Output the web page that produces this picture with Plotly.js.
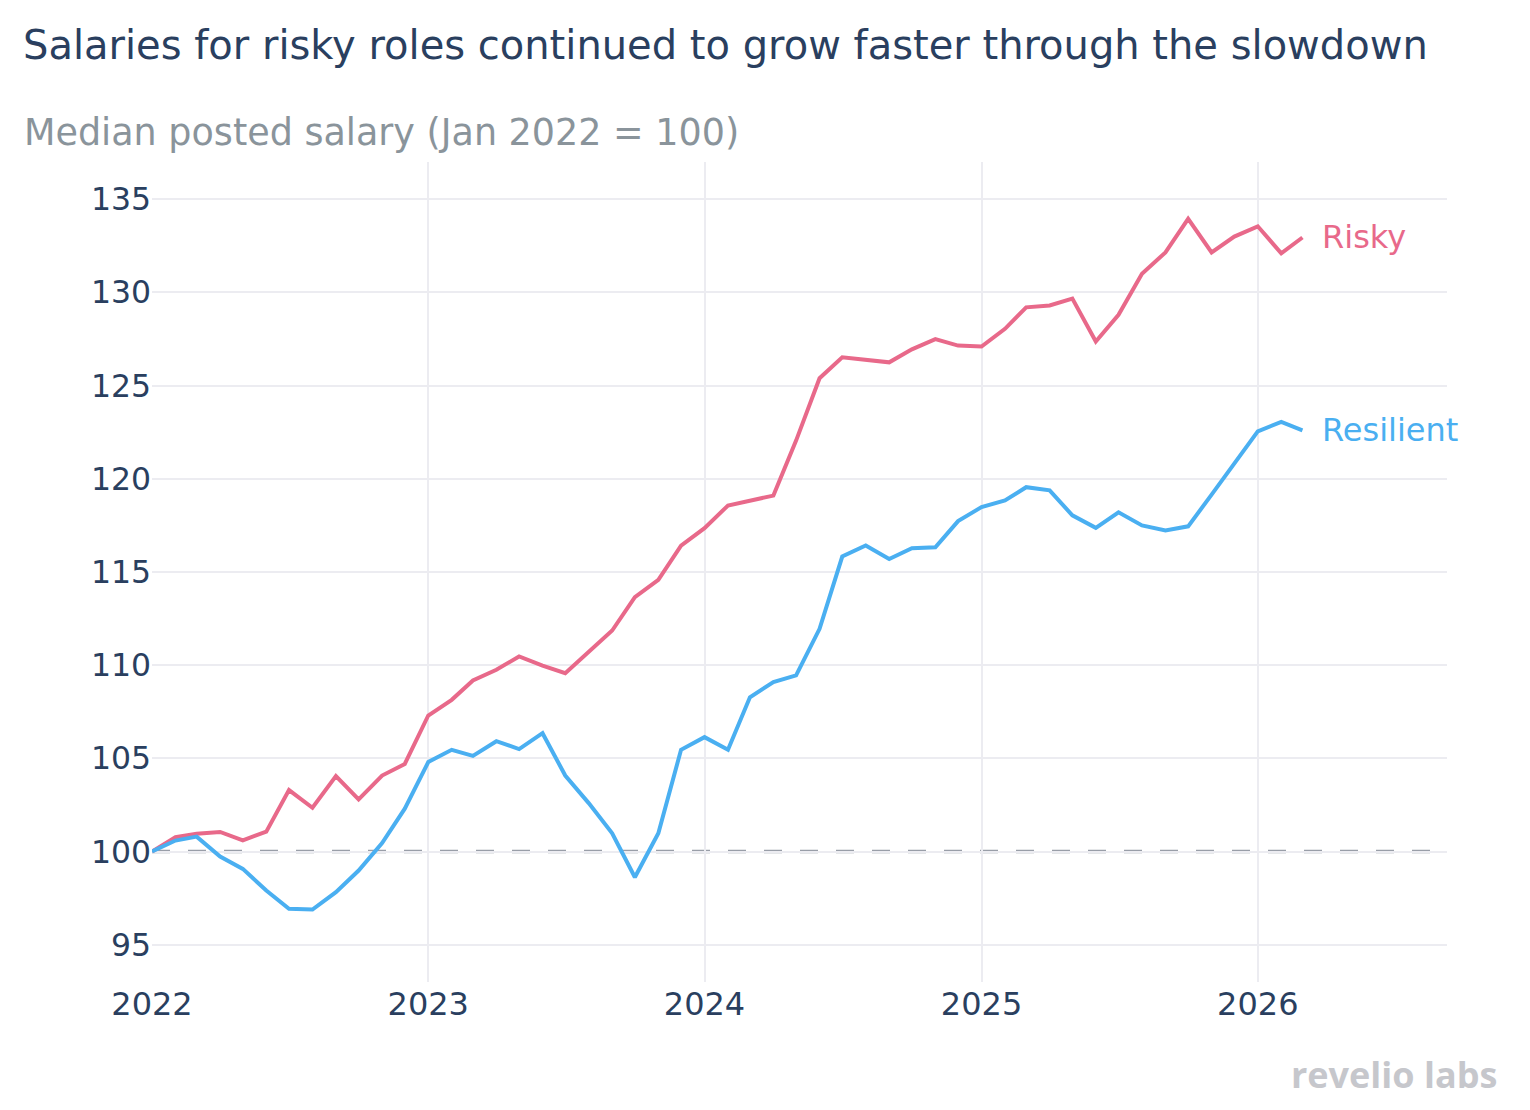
<!DOCTYPE html>
<html>
<head>
<meta charset="utf-8">
<script src="https://cdn.plot.ly/plotly-3.0.1.min.js"></script>
<style>
  html, body { margin: 0; padding: 0; background: #fff; }
  #chart { width: 1530px; height: 1110px; }
</style>
</head>
<body>
<div id="chart"></div>
<script>
const months = [
  '2022-01-01','2022-02-01','2022-03-01','2022-04-01','2022-05-01','2022-06-01','2022-07-01','2022-08-01','2022-09-01','2022-10-01','2022-11-01','2022-12-01',
  '2023-01-01','2023-02-01','2023-03-01','2023-04-01','2023-05-01','2023-06-01','2023-07-01','2023-08-01','2023-09-01','2023-10-01','2023-11-01','2023-12-01',
  '2024-01-01','2024-02-01','2024-03-01','2024-04-01','2024-05-01','2024-06-01','2024-07-01','2024-08-01','2024-09-01','2024-10-01','2024-11-01','2024-12-01',
  '2025-01-01','2025-02-01','2025-03-01','2025-04-01','2025-05-01','2025-06-01','2025-07-01','2025-08-01','2025-09-01','2025-10-01','2025-11-01','2025-12-01',
  '2026-01-01','2026-02-01','2026-03-01'
];
const risky = [
  100.0, 100.77, 100.95, 101.05, 100.6, 101.07, 103.3, 102.35, 104.05, 102.8, 104.08, 104.7,
  107.3, 108.14, 109.18, 109.75, 110.47, 109.98, 109.57, 110.7, 111.86, 113.65, 114.58, 116.42,
  117.35, 118.57, 118.8, 119.1, 122.05, 125.4, 126.52, 126.4, 126.25, 126.95, 127.5, 127.15,
  127.1, 128.05, 129.2, 129.3, 129.67, 127.37, 128.8, 131.0, 132.15, 133.95, 132.15, 133.0,
  133.55, 132.1, 132.95
];
const resilient = [
  100.0, 100.59, 100.8, 99.73, 99.07, 97.91, 96.93, 96.89, 97.82, 98.98, 100.45, 102.3,
  104.8, 105.46, 105.13, 105.92, 105.5, 106.35, 104.08, 102.6, 100.98, 98.62, 100.98, 105.46,
  106.14, 105.46, 108.28, 109.09, 109.45, 111.95, 115.83, 116.42, 115.7, 116.28, 116.33, 117.73,
  118.48, 118.84, 119.55, 119.38, 118.04, 117.37, 118.2, 117.5, 117.23, 117.45, 119.15, 120.85,
  122.55, 123.05, 122.6
];
const seriesNames = ['Risky', 'Resilient'];
const yTicks = [95, 100, 105, 110, 115, 120, 125, 130, 135];
const xTicks = ['2022-01-01', '2023-01-01', '2024-01-01', '2025-01-01', '2026-01-01'];
const xTickText = ['2022', '2023', '2024', '2025', '2026'];

const PINK = '#e8698a';
const BLUE = '#4aaff1';
const FONT = '"DejaVu Sans", verdana, arial, sans-serif';

const traces = [
  { x: months, y: risky, name: seriesNames[0], type: 'scatter', mode: 'lines',
    line: { color: PINK, width: 4 }, hoverinfo: 'x+y' },
  { x: months, y: resilient, name: seriesNames[1], type: 'scatter', mode: 'lines',
    line: { color: BLUE, width: 4 }, hoverinfo: 'x+y' }
];

const last = months.length - 1;
const layout = {
  width: 1530, height: 1110,
  paper_bgcolor: '#fff', plot_bgcolor: '#fff',
  margin: { l: 152, r: 83, t: 162, b: 128, pad: 0 },
  showlegend: false,
  font: { family: FONT, color: '#2a3f5f' },
  title: {
    text: 'Salaries for risky roles continued to grow faster through the slowdown',
    font: { family: FONT, size: 40, color: '#2a3f5f' },
    x: 23 / 1530, xanchor: 'left', xref: 'container',
    y: 1 - 45 / 1110, yanchor: 'middle', yref: 'container'
  },
  xaxis: {
    type: 'date',
    range: ['2022-01-01', '2026-09-08'],
    tickvals: xTicks, ticktext: xTickText,
    showgrid: true, gridcolor: '#ececf1', gridwidth: 2,
    zeroline: false, showline: false, ticks: '',
    tickfont: { family: FONT, size: 32, color: '#2a3f5f' }
  },
  yaxis: {
    range: [93, 137],
    tickvals: yTicks,
    showgrid: true, gridcolor: '#ececf1', gridwidth: 2,
    zeroline: false, showline: false, ticks: '',
    tickfont: { family: FONT, size: 31.5, color: '#2a3f5f' }
  },
  shapes: [
    { type: 'line', xref: 'paper', yref: 'y', x0: 0, x1: 0.988, y0: 100, y1: 100,
      line: { color: '#999ea8', width: 3.5, dash: '18px,18px' }, layer: 'between' }
  ],
  annotations: [
    { text: 'Median posted salary (Jan 2022 = 100)', xref: 'paper', yref: 'paper',
      x: (22 - 152) / 1295, y: (982 - 133) / 820, xanchor: 'left', yanchor: 'middle',
      showarrow: false, font: { family: FONT, size: 36.5, color: '#8a949b' } },
    { text: seriesNames[0], x: months[last], y: risky[last], xref: 'x', yref: 'y',
      xanchor: 'left', yanchor: 'middle', xshift: 18, showarrow: false,
      font: { family: FONT, size: 32, color: PINK } },
    { text: seriesNames[1], x: months[last], y: resilient[last], xref: 'x', yref: 'y',
      xanchor: 'left', yanchor: 'middle', xshift: 18, showarrow: false,
      font: { family: FONT, size: 32, color: BLUE } },
    { text: '<b>revelio labs</b>', xref: 'paper', yref: 'paper',
      x: (1499 - 152) / 1295, y: (982 - 1074) / 820, xanchor: 'right', yanchor: 'middle',
      showarrow: false, font: { family: '"Open Sans", sans-serif', size: 36, color: '#c6c7cc' } }
  ]
};

Plotly.newPlot('chart', traces, layout, { displayModeBar: false, staticPlot: true });
</script>
</body>
</html>
